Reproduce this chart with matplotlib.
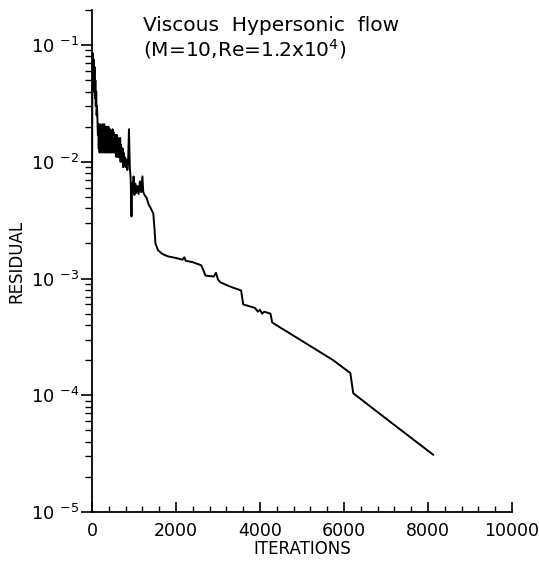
import numpy as np
import matplotlib.pyplot as plt
from matplotlib.ticker import LogLocator, MultipleLocator, NullFormatter

# Convergence history: iteration number vs. residual
iterations = [0, 10, 20, 30, 40, 50, 60, 70, 80, 90, 100, 110, 120, 140,
              150, 160, 170, 180, 190, 200, 210, 220, 230, 240, 250, 260,
              270, 280, 290, 300, 310, 320, 330, 340, 350, 360, 370, 380,
              390, 400, 410, 420, 430, 440, 450, 460, 470, 480, 490, 500,
              510, 520, 530, 540, 550, 560, 570, 580, 590, 600, 610, 620,
              630, 640, 650, 660, 670, 680, 690, 700, 710, 720, 730, 740,
              750, 760, 780, 800, 820, 840, 860, 880,
              900, 920, 940, 955, 970, 990, 1010, 1030, 1050, 1080, 1110,
              1140, 1170, 1200, 1220, 1250, 1300, 1350, 1400, 1460, 1490,
              1510, 1570, 1670, 1800, 2000, 2150, 2200, 2230, 2400, 2600,
              2650, 2700, 2900, 2950, 3000, 3050, 3300, 3550, 3600, 3880,
              3950, 4000, 4050, 4100, 4250, 4290, 5740, 6150, 6220, 6930,
              8120]
residual = [0.005, 0.06, 0.085, 0.05, 0.075, 0.04, 0.065, 0.035, 0.05, 0.03,
            0.04, 0.025, 0.03, 0.017,
            0.021, 0.013, 0.020, 0.012, 0.021, 0.014, 0.019, 0.012, 0.020,
            0.013, 0.021, 0.012, 0.019, 0.014, 0.021, 0.012, 0.020, 0.013,
            0.018, 0.012, 0.020, 0.013, 0.019, 0.012, 0.020, 0.014, 0.018,
            0.012, 0.019, 0.013, 0.018, 0.012, 0.017, 0.013, 0.019, 0.012,
            0.018, 0.013, 0.016, 0.012, 0.017, 0.012, 0.016, 0.011, 0.017,
            0.012, 0.015, 0.011, 0.016, 0.011, 0.015, 0.011, 0.016, 0.010,
            0.014, 0.011, 0.013, 0.010, 0.013, 0.009,
            0.012, 0.0095, 0.011, 0.009, 0.0105, 0.0085, 0.010, 0.019,
            0.009, 0.0072, 0.0034, 0.0065, 0.0055, 0.0075, 0.0052, 0.0065,
            0.0054, 0.0062, 0.0053, 0.0068, 0.0055, 0.0075, 0.0055, 0.0052,
            0.0049, 0.0043, 0.0040, 0.0036, 0.0026, 0.0020, 0.00175, 0.00163,
            0.00155, 0.0015, 0.00145, 0.00152, 0.00142, 0.00138, 0.0013,
            0.00118, 0.00106, 0.00104, 0.00112, 0.00098, 0.00093, 0.00085,
            0.00079, 0.00060, 0.00056, 0.00052, 0.00054, 0.00050, 0.00052,
            0.00050, 0.00042, 0.00020, 0.000155, 0.000104, 6.6e-5, 3.1e-5]

xticks = [0, 2000, 4000, 6000, 8000, 10000]
ytick_labels = [r"$\mathregular{10\ ^{-5}}$", r"$\mathregular{10\ ^{-4}}$",
                r"$\mathregular{10\ ^{-3}}$", r"$\mathregular{10\ ^{-2}}$",
                r"$\mathregular{10\ ^{-1}}$"]

fig = plt.figure(figsize=(5.39, 5.61), dpi=100)
ax = fig.add_axes([0.1707, 0.0873, 0.7793, 0.895])

ax.plot(iterations, residual, color="black", linewidth=1.4)

ax.set_yscale("log")
ax.set_xlim(0, 10000)
ax.set_ylim(1e-5, 0.2)

ax.spines["top"].set_visible(False)
ax.spines["right"].set_visible(False)
ax.spines["left"].set_linewidth(1.3)
ax.spines["bottom"].set_linewidth(1.3)

ax.set_xticks(xticks)
ax.set_xticklabels([str(t) for t in xticks])
ax.xaxis.set_minor_locator(MultipleLocator(400))
ax.tick_params(axis="x", which="major", direction="in", length=7, width=1.2,
               labelsize=12.5, pad=7)
ax.tick_params(axis="x", which="minor", direction="in", length=4, width=1.0)

ax.set_yticks([1e-5, 1e-4, 1e-3, 1e-2, 1e-1])
ax.set_yticklabels(ytick_labels)
ax.yaxis.set_minor_locator(LogLocator(base=10, subs=np.arange(2, 10)))
ax.yaxis.set_minor_formatter(NullFormatter())
ax.tick_params(axis="y", which="major", direction="out", length=8, width=1.2,
               labelsize=13, pad=1)
ax.tick_params(axis="y", which="minor", direction="out", length=5, width=1.0)

ax.set_xlabel("ITERATIONS", fontsize=12, labelpad=0)
ax.set_ylabel("RESIDUAL", fontsize=12, labelpad=4)

ax.text(0.122, 0.987, "Viscous  Hypersonic  flow", transform=ax.transAxes,
        fontsize=14.5, va="top", ha="left")
ax.text(0.122, 0.945, r"(M=10,Re=1.2x10$^{4}$)", transform=ax.transAxes,
        fontsize=14.5, va="top", ha="left")

fig.savefig("out.png", dpi=100)
